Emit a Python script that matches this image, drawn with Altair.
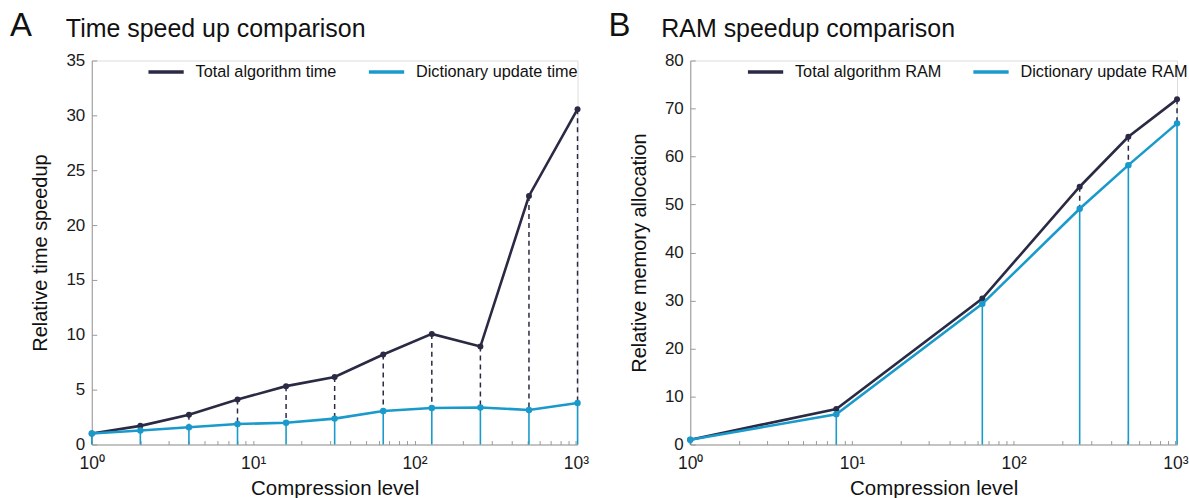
import altair as alt
import pandas as pd

# ---------------- data ----------------
levels_a = [1, 2, 4, 8, 16, 32, 64, 128, 256, 512, 1024]
total_time = [1.0, 1.7, 2.72, 4.1, 5.32, 6.15, 8.2, 10.08, 8.93, 22.65, 30.56]
dict_time = [1.0, 1.27, 1.57, 1.87, 1.98, 2.36, 3.06, 3.33, 3.38, 3.15, 3.79]

levels_b = [1, 8, 64, 256, 512, 1024]
total_ram = [1.0, 7.4, 30.4, 53.7, 64.1, 71.9]
dict_ram = [1.0, 6.3, 29.3, 49.1, 58.2, 66.9]

major_x = [1, 10, 100, 1000]
minor_x = [2, 3, 4, 5, 6, 7, 8, 9, 20, 30, 40, 50, 60, 70, 80, 90,
           200, 300, 400, 500, 600, 700, 800, 900]
time_ticks = [0, 5, 10, 15, 20, 25, 30, 35]
ram_ticks = [0, 10, 20, 30, 40, 50, 60, 70, 80]

DARK = "#2a2a44"
BLUE = "#1a9acb"
GRAY = "#9a9a9a"
FONT = "Liberation Sans"
H = 385

SUP = ("datum.value == 1 ? '10⁰' : datum.value == 10 ? '10¹' : "
       "datum.value == 100 ? '10²' : '10³'")


def panel(levels, total, dictv, names, title, letter, ymax, yticks, ytitle,
          width, legend_x, letter_x, title_x):
    n = len(levels)
    wide = pd.DataFrame({"level": levels, "total": total, "dict": dictv})
    long = pd.DataFrame({
        "level": levels * 2,
        "value": total + dictv,
        "series": [names[0]] * n + [names[1]] * n,
    })
    xs = alt.Scale(type="log", domain=[1, 1024], nice=False)
    ys = alt.Scale(domain=[0, ymax], nice=False, zero=True)

    x_main = alt.X("level:Q", scale=xs, axis=alt.Axis(
        orient="bottom", values=major_x, labelExpr=SUP, ticks=False,
        grid=False, domainColor=GRAY, labelFontSize=17.5, labelColor="#1a1a1a",
        labelFont=FONT, labelPadding=10, labelFlush=False,
        title="Compression level", titleFontSize=20.5, titleFont=FONT,
        titleFontWeight="normal", titleColor="#111", titlePadding=7))
    y_main = alt.Y("dict:Q", scale=ys, axis=alt.Axis(
        orient="left", values=yticks, ticks=False, grid=False,
        domainColor=GRAY, labelFontSize=17, labelColor="#1a1a1a",
        labelFont=FONT, labelPadding=7, title=ytitle, titleFontSize=20,
        titleFont=FONT, titleFontWeight="normal", titleColor="#111",
        titlePadding=15))
    x_ticks = alt.X("level:Q", scale=xs, axis=alt.Axis(
        orient="top", offset=-H, values=major_x + minor_x, labels=False,
        domain=False, ticks=True, tickSize=4, tickColor=GRAY, grid=False,
        title=None))
    y_ticks = alt.Y("total:Q", scale=ys, axis=alt.Axis(
        orient="right", offset=-width, values=yticks, labels=False,
        domain=False, ticks=True, tickSize=5, tickColor=GRAY, grid=False,
        title=None))

    base = alt.Chart(wide)
    stems = base.mark_rule(color=BLUE, strokeWidth=1.6).encode(
        x=x_main, y=y_main, y2=alt.datum(0))
    dashes = base.mark_rule(color=DARK, strokeWidth=1.5,
                            strokeDash=[5, 4]).encode(
        x=x_ticks, y=y_ticks, y2="dict:Q")

    color = alt.Color("series:N", scale=alt.Scale(domain=names,
                                                   range=[DARK, BLUE]),
                      legend=alt.Legend(
                          title=None, orient="none", legendX=legend_x,
                          legendY=-8, direction="horizontal", columns=2,
                          gridAlign="none",
                          symbolType="stroke", symbolStrokeWidth=3.5,
                          symbolSize=1250, labelFontSize=16.3, labelFont=FONT,
                          labelColor="#111", labelLimit=0, columnPadding=24,
                          labelOffset=10))
    xn = alt.X("level:Q", scale=xs, axis=None)
    yn = alt.Y("value:Q", scale=ys, axis=None)
    lc = alt.Chart(long)
    line_dark = lc.transform_filter(alt.datum.series == names[0]).mark_line(
        strokeWidth=2.6).encode(x=xn, y=yn, color=color)
    pts_dark = lc.transform_filter(alt.datum.series == names[0]).mark_circle(
        size=36, opacity=1, color=DARK).encode(x=xn, y=yn)
    line_blue = lc.transform_filter(alt.datum.series == names[1]).mark_line(
        strokeWidth=2.6).encode(x=xn, y=yn, color=color)
    pts_blue = lc.transform_filter(alt.datum.series == names[1]).mark_circle(
        size=42, opacity=1, color=BLUE).encode(x=xn, y=yn)

    lab = alt.Chart(pd.DataFrame({"letter": [letter]})).mark_text(
        align="left", baseline="alphabetic", fontSize=33, font=FONT,
        color="#111").encode(text="letter:N", x=alt.value(letter_x),
                             y=alt.value(-25))
    ttl = alt.Chart(pd.DataFrame({"title": [title]})).mark_text(
        align="left", baseline="alphabetic", fontSize=25, font=FONT,
        color="#111").encode(text="title:N", x=alt.value(title_x),
                             y=alt.value(-24))

    return alt.layer(stems, dashes, line_dark, pts_dark, line_blue, pts_blue,
                     lab, ttl).resolve_axis(x="independent", y="independent"
                                            ).properties(width=width, height=H)


chart_a = panel(levels_a, total_time, dict_time,
                ["Total algorithm time", "Dictionary update time"],
                "Time speed up comparison", "A", 35, time_ticks,
                "Relative time speedup", 487, 55, -82, -26)
chart_b = panel(levels_b, total_ram, dict_ram,
                ["Total algorithm RAM", "Dictionary update RAM"],
                "RAM speedup comparison", "B", 80, ram_ticks,
                "Relative memory allocation", 488, 56, -82, -29)

chart = alt.hconcat(chart_a, chart_b, spacing=18).resolve_scale(
    color="independent").properties(
    padding={"left": 9, "top": 8, "right": 0, "bottom": 0}
).configure_view(stroke=None).configure(background="white")

chart.save("out.html", embed_options={"renderer": "svg", "actions": False})
